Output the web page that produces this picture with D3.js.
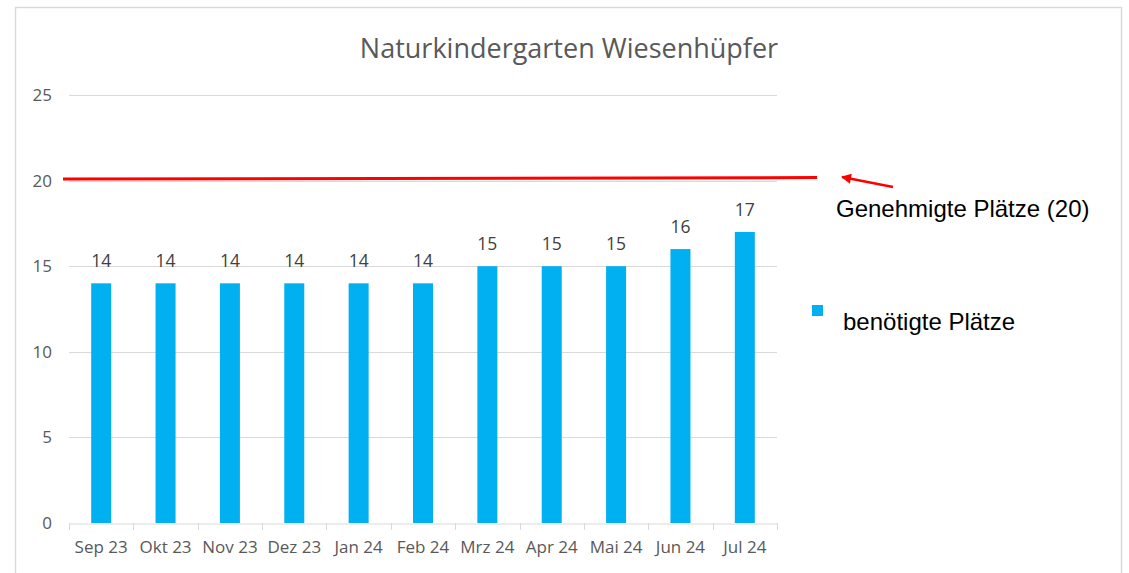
<!DOCTYPE html>
<html>
<head>
<meta charset="utf-8">
<script src="https://cdn.jsdelivr.net/npm/d3@7"></script>
<style>
	body{margin:0;background:#fff;}
	svg{display:block;}
</style>
</head>
<body>
<div id="chart"></div>
<script>
// chart data
let months = ["Sep 23","Okt 23","Nov 23","Dez 23","Jan 24","Feb 24","Mrz 24","Apr 24","Mai 24","Jun 24","Jul 24"],
	places = [14,14,14,14,14,14,15,15,15,16,17],
	yTicks = [0,5,10,15,20,25],
	approved = 20,
	title = "Naturkindergarten Wiesenhüpfer",
	approvedLabel = "Genehmigte Plätze (20)",
	seriesLabel = "benötigte Plätze";

let W = 1129, H = 573,
	plot = {left:69, right:777, top:95, bottom:523},
	barColor = "#00b0f0",
	gridColor = "#d9d9d9",
	txtColor = "#595959",
	officeFont = "'Open Sans', Lato, sans-serif",
	noteFont = "'Liberation Sans', Arial, sans-serif";

let svg = d3.select("#chart").append("svg").attr("width", W).attr("height", H);

// outer frame
svg.append("rect")
	.attr("x", 15.5).attr("y", 7.5)
	.attr("width", 1106).attr("height", 600)
	.attr("fill", "#fff").attr("stroke", gridColor).attr("stroke-width", 1.5);

let x = d3.scaleBand().domain(months).range([plot.left, plot.right]).paddingInner(0).paddingOuter(0),
	y = d3.scaleLinear().domain([0, 25]).range([plot.bottom, plot.top]);

// title
svg.append("text")
	.attr("x", 569).attr("y", 58)
	.attr("text-anchor", "middle")
	.style("font-family", officeFont).style("font-size", "27px")
	.attr("fill", txtColor)
	.text(title);

// gridlines
svg.append("g").selectAll("line").data(yTicks.filter(d => d > 0)).join("line")
	.attr("x1", plot.left).attr("x2", plot.right)
	.attr("y1", d => Math.round(y(d)) + 0.5).attr("y2", d => Math.round(y(d)) + 0.5)
	.attr("stroke", gridColor);

// y axis labels
let yAxis = d3.axisLeft(y).tickValues(yTicks).tickSize(0).tickPadding(17);
let gy = svg.append("g").attr("transform", "translate(" + plot.left + ",0)").call(yAxis);
gy.select(".domain").remove();
gy.selectAll("text").attr("fill", txtColor).style("font-family", officeFont).style("font-size", "17px");

// x axis
let xAxis = d3.axisBottom(x).tickSize(0).tickPadding(17);
let gx = svg.append("g").attr("transform", "translate(0," + (Math.round(plot.bottom) + 0.5) + ")").call(xAxis);
gx.select(".domain").attr("stroke", gridColor);
gx.selectAll("text").attr("fill", txtColor).style("font-family", officeFont).style("font-size", "17px");
// category boundary ticks
svg.append("g").selectAll("line").data(months.concat([null])).join("line")
	.attr("x1", (d, i) => Math.round(plot.left + i * x.step()) + 0.5)
	.attr("x2", (d, i) => Math.round(plot.left + i * x.step()) + 0.5)
	.attr("y1", plot.bottom).attr("y2", plot.bottom + 7)
	.attr("stroke", gridColor);

// bars
let bw = 20;
svg.append("g").selectAll("rect").data(places).join("rect")
	.attr("x", (d, i) => x(months[i]) + x.bandwidth()/2 - bw/2)
	.attr("y", d => y(d))
	.attr("width", bw)
	.attr("height", d => y(0) - y(d))
	.attr("fill", barColor);

// value labels
svg.append("g").selectAll("text").data(places).join("text")
	.attr("x", (d, i) => x(months[i]) + x.bandwidth()/2)
	.attr("y", d => y(d) - 16)
	.attr("text-anchor", "middle")
	.style("font-family", officeFont).style("font-size", "17.5px")
	.attr("fill", "#404040")
	.text(d => d);

// approved places line
svg.append("line")
	.attr("x1", 63).attr("x2", 817)
	.attr("y1", y(approved) - 1.5).attr("y2", y(approved) - 3)
	.attr("stroke", "#ff0000").attr("stroke-width", 3);

// arrow
svg.append("defs").append("marker")
	.attr("id", "arrowhead")
	.attr("viewBox", "0 0 10 10")
	.attr("refX", 9).attr("refY", 5)
	.attr("markerWidth", 5).attr("markerHeight", 4)
	.attr("markerUnits", "strokeWidth")
	.attr("orient", "auto")
	.append("path").attr("d", "M0,0 L10,5 L0,10 z").attr("fill", "#ff0000");

svg.append("line")
	.attr("x1", 893).attr("y1", 187)
	.attr("x2", 842).attr("y2", 177)
	.attr("stroke", "#ff0000").attr("stroke-width", 2.5)
	.attr("marker-end", "url(#arrowhead)");

svg.append("text")
	.attr("x", 836).attr("y", 217)
	.style("font-family", noteFont).style("font-size", "24px")
	.attr("fill", "#000")
	.text(approvedLabel);

// legend
svg.append("rect")
	.attr("x", 812).attr("y", 305).attr("width", 11).attr("height", 11)
	.attr("fill", barColor);
svg.append("text")
	.attr("x", 843).attr("y", 330)
	.style("font-family", noteFont).style("font-size", "24px")
	.attr("fill", "#000")
	.text(seriesLabel);
</script>
</body>
</html>
